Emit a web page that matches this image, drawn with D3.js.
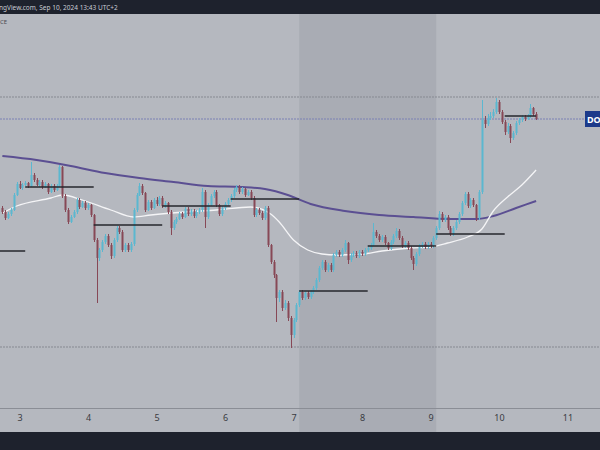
<!DOCTYPE html>
<html><head><meta charset="utf-8">
<script src="https://cdn.jsdelivr.net/npm/d3@7"></script>
<style>html,body{margin:0;padding:0;background:#b5b8bf;}svg{display:block;}</style>
</head><body>
<svg id="c" width="600" height="450"></svg>
<script>
// ---- DATA (price × 10^4 USD, hourly candles from Sep 2 18:00) ----
const startTime = new Date(2024, 8, 2, 18);
const firstOpen = 996;
const closes = [
 994,991,993,995,1002.5,1008,1006,1007.5,1008.5,1007,
 1012.5,1010,1007.5,1009,1006.5,1008,1004,1007,1005,1007,
 1016.5,1002,995,989,991.5,994,1000,996.5,998.5,996,
 997.5,992.5,980,971,975,979,982,977.5,972,980,
 986,984,975,977.5,975,978,995,1002.5,1007,1003.5,
 995,999,996,1000,998,1001,997,998.5,994,986,
 989,990.5,993,991.5,995.5,993,994.5,992,994,995,
 1004,991.5,997.5,1002,1004,997.5,993,996,998,1000,
 1002,1005,1006.5,1004,1005.5,1002.5,1004,1001,992.5,995,
 993.5,991,996,977.5,969,962.5,951,954,946,948.5,
 941,932.5,940,947.5,954,951,953.5,951.5,954,956,
 960,966,969,965,967.5,965,972.5,974,972.5,975,
 978.5,970,972.5,973.5,972,974,973,975,976,977.5,
 984,982,980,981.5,978.5,976,979,982,984.5,981,
 977,978.5,976,971,968,973,977,978,976.5,978,
 977,981,986,993,990,991.5,986,983,986,989,
 993,998.5,1003,997,1000,997.5,991,1004,1040,1038,
 1041,1042,1044,1049,1044,1039,1034,1037,1031,1033.5,
 1038.5,1040,1041.5,1040.5,1042,1046,1043,1040.5];
const highs = [
 997,995,994,996,1003.5,1009,1009.5,1008.5,1009.5,1009,
 1019,1013.5,1011,1010,1010,1009,1008.5,1008,1008,1008,
 1017.5,1017,1003,996,992.5,995,1001,1001,999.5,999.5,
 998.5,998,993,981,976,980,983,983,978.5,981,
 987,987,985,978.5,978.5,979,996,1003.5,1008.5,1008,
 1004,1000,1000,1001,1001.5,1002,1002,999.5,999,995,
 990,991.5,994,994,996.5,996.5,995.5,995.5,995,996,
 1006,1005,998.5,1003,1005,1005,998,997,999,1001,
 1003,1006,1007.5,1007.5,1006.5,1006,1005,1005,1002,996,
 996,994.5,997,997,978,970,963,955,955,950,
 949.5,942,941,948.5,955,955,954.5,954.5,955,957,
 961,967,970,970,968.5,968.5,973.5,975,975,976,
 980,979,973.5,974.5,974.5,975,975,976,977,978.5,
 988.5,985,983,982.5,982.5,979,980,983,986,985.5,
 982,979.5,979.5,977,972,974,978,979,979,979,
 979,982,987,994.5,994,992.5,992.5,987,987,990,
 994,999.5,1004,1004,1001,1001,998,1005,1050,1042,
 1043,1044,1045.5,1051,1050,1045,1040,1038.5,1038,1034.5,
 1039.5,1041,1042.5,1042.5,1043,1048,1046.5,1044];
const lows = [
 993,990,990.5,992,994.5,1002,1005.5,1005,1007,1006,
 1006.5,1009,1007,1006.5,1005.5,1006,1003,1003.5,1004,1004.5,
 1006.5,1001,994,988,988.5,991,993,995.5,996,995,
 995,991.5,979,948.5,969.5,974,978,976.5,970.5,971,
 979,983,974,974,974,974,977,994,1002,1002.5,
 994,994.5,995,995.5,997,997,996,996,993,982.5,
 985,988,990,990.5,991,992,992,991,991,993,
 994,986,990.5,997,1001,996.5,992,992,995,997,
 999,1001,1004,1003,1003,1001.5,1002,1000,991.5,991.5,
 992.5,990,990,976.5,968,961,939,949,944.5,945,
 939.5,926,931,939,946.5,950,950,950.5,950.5,953,
 955,959,965,964,964,964,964,971.5,971.5,971.5,
 974,968,969,971.5,971,971,972,972,974,975,
 977,981,979,979,977.5,975,975,978,981,980,
 976,976,975,970,965,967,972,976,975.5,975.5,
 976,976,980,985,989,989,985,982,982,985,
 988,992,997.5,996,996,996.5,989.5,990,1003,1036,
 1037,1040,1041,1043,1043,1038,1032.5,1033,1028.5,1030,
 1032.5,1037.5,1039,1039.5,1040,1041,1042,1040];

// moving averages, sampled at candle indices
const slowMaIdx  = [0,12,24,36,48,60,72,84,92,100,108,120,132,144,156,166,172,180,187];
const slowMaVals = [1022,1020,1017,1013.5,1011,1009,1007,1006.5,1005.5,1002.5,998,994.5,992.5,991.5,990.5,990.5,992,996,999.5];
const fastMaIdx  = [0,5,17,21,28,38,46,52,64,75,87,94,97,102,107,112,117,126,133,143,150,156,163,168,172,177,182,187];
const fastMaVals = [993.5,997,1001,1002.5,1000,995,991.5,992.5,994,995,996.5,993,989,980,975,973,972.5,973,974.5,976,976.5,978.5,981.5,985.5,994.5,1001.5,1007.5,1015];

// daily open levels (day of September, level)
const levelDays = [2,3,4,5,6,7,8,9,10];
const levelVals = [974.5,1006.5,987.5,997,1000.5,954.5,977,983,1042];

// range lines
const rangeHigh = 1051.5;
const rangeLow = 926.5;

// x tick labels (days)
const tickDays = [3,4,5,6,7,8,9,10,11];
const weekend = [new Date(2024,8,7,2), new Date(2024,8,9,2)];
const headerText = "ngView.com, Sep 10, 2024 13:43 UTC+2";
const priceTag = "DO";

// ---- CHART ----
(function(){
const svg = d3.select("#c");
const W = 600, H = 450;
const topY = 14, plotBottom = 408, axisBottom = 432;

const x = d3.scaleTime().domain([new Date(2024,8,3), new Date(2024,8,11)]).range([19.5, 567.5]);
const y = d3.scaleLinear().domain([900, 1100]).range([400, 0]);

const candles = closes.map((c, i) => ({
  t: d3.timeHour.offset(startTime, i),
  o: i === 0 ? firstOpen : closes[i-1],
  h: highs[i], l: lows[i], c: c
}));

svg.append("rect").attr("width", W).attr("height", H).attr("fill", "#b5b8bf");

svg.append("defs").append("clipPath").attr("id","plotclip")
  .append("rect").attr("x",0).attr("y",topY).attr("width",W).attr("height",plotBottom-topY);

// weekend shading
svg.append("rect").attr("x", x(weekend[0])).attr("y", topY)
  .attr("width", x(weekend[1]) - x(weekend[0])).attr("height", axisBottom - topY)
  .attr("fill", "#a9acb4");

const g = svg.append("g").attr("clip-path","url(#plotclip)");

// range lines
g.append("line").attr("x1",0).attr("x2",W).attr("y1",y(rangeHigh)).attr("y2",y(rangeHigh))
  .attr("stroke","#868991").attr("stroke-width",1).attr("stroke-dasharray","2,1");
g.append("line").attr("x1",0).attr("x2",W).attr("y1",y(rangeLow)).attr("y2",y(rangeLow))
  .attr("stroke","#868991").attr("stroke-width",1).attr("stroke-dasharray","2,1");
const lastClose = closes[closes.length-1];
g.append("line").attr("x1",0).attr("x2",W).attr("y1",y(lastClose)).attr("y2",y(lastClose))
  .attr("stroke","#7b80b4").attr("stroke-width",1).attr("stroke-dasharray","2,1");

// MAs
const line = d3.line().x(d => x(d.t)).y(d => y(d.v)).curve(d3.curveMonotoneX);
const slow = slowMaIdx.map((k,i) => ({t: d3.timeHour.offset(startTime,k), v: slowMaVals[i]}));
const fast = fastMaIdx.map((k,i) => ({t: d3.timeHour.offset(startTime,k), v: fastMaVals[i]}));
g.append("path").datum(slow).attr("d", line).attr("fill","none").attr("stroke","#5b4f92").attr("stroke-width",2);
g.append("path").datum(fast).attr("d", line).attr("fill","none").attr("stroke","#f4f4f6").attr("stroke-width",1.3);

// candles
const bw = 2;
const cg = g.append("g");
candles.forEach(d => {
  const up = d.c >= d.o;
  const col = up ? "#5bb7d0" : "#874856";
  const cx = Math.round(x(d.t)) + 0.5;
  cg.append("line").attr("x1",cx).attr("x2",cx).attr("y1",y(d.h)).attr("y2",y(d.l))
    .attr("stroke",col).attr("stroke-width",1);
  const y0 = y(Math.max(d.o,d.c)), y1 = y(Math.min(d.o,d.c));
  cg.append("rect").attr("x", cx - bw/2).attr("y", y0).attr("width", bw)
    .attr("height", Math.max(1, y1 - y0)).attr("fill", col);
});

// daily level lines
const lastT = candles[candles.length-1].t;
levelDays.forEach((dd, i) => {
  const s = new Date(2024, 8, dd, 2);
  let e = d3.timeHour.offset(s, 24);
  if (e > lastT) e = lastT;
  g.append("line").attr("x1", x(s)).attr("x2", x(e)).attr("y1", y(levelVals[i])).attr("y2", y(levelVals[i]))
    .attr("stroke","#26272c").attr("stroke-width",1.6);
});

// price tag
svg.append("rect").attr("x",585).attr("y",y(lastClose)-8).attr("width",20).attr("height",16).attr("fill","#1c3a8a");
svg.append("text").attr("x",587).attr("y",y(lastClose)+3.5).text(priceTag)
  .attr("fill","#ffffff").attr("font-family","Noto Sans, sans-serif").attr("font-size",9).attr("font-weight","bold");

// x axis
svg.append("line").attr("x1",0).attr("x2",W).attr("y1",plotBottom+0.5).attr("y2",plotBottom+0.5)
  .attr("stroke","#8a8d95").attr("stroke-width",1.2);
const ax = d3.axisBottom(x).tickValues(tickDays.map(d => new Date(2024,8,d)))
  .tickSize(0).tickPadding(6).tickFormat(d3.timeFormat("%-d"));
const axG = svg.append("g").attr("transform",`translate(0,${plotBottom+1})`).call(ax);
axG.select(".domain").remove();
axG.selectAll("text").attr("fill","#3a3c42").attr("font-size",9).attr("font-family","Noto Sans, sans-serif");

// header & footer bars
svg.append("rect").attr("x",0).attr("y",0).attr("width",W).attr("height",topY).attr("fill","#1e222d");
svg.append("text").attr("x",-1).attr("y",9.5).text(headerText)
  .attr("fill","#c9ccd4").attr("font-family","Noto Sans, sans-serif").attr("font-size",6.5);
svg.append("text").attr("x",0).attr("y",24).text("CE")
  .attr("fill","#4a4c52").attr("font-family","Noto Sans, sans-serif").attr("font-size",6);
svg.append("rect").attr("x",0).attr("y",axisBottom).attr("width",W).attr("height",H-axisBottom).attr("fill","#1e222d");
})();
</script>
</body></html>
